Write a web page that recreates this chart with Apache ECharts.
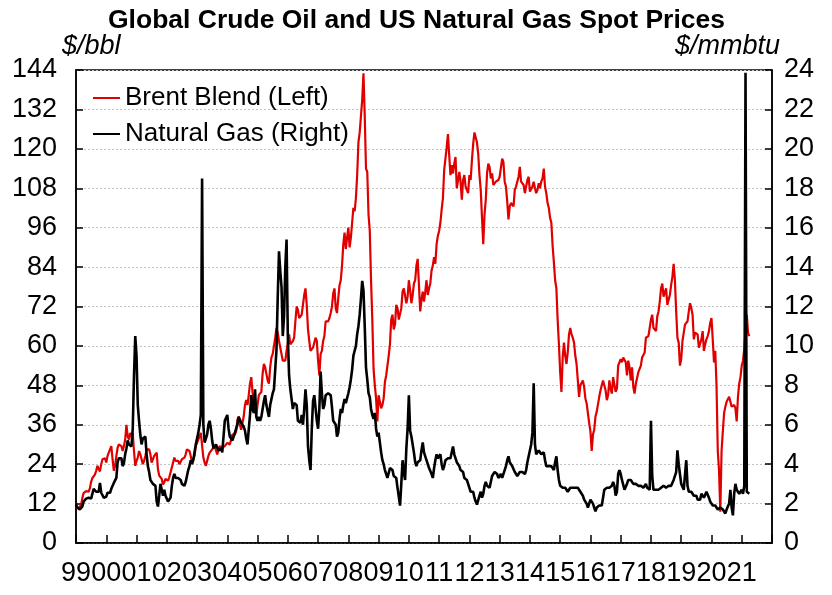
<!DOCTYPE html>
<html><head><meta charset="utf-8">
<script src="https://cdn.jsdelivr.net/npm/echarts@6/dist/echarts.min.js"></script>
<style>html,body{margin:0;padding:0;background:#fff}#c{width:832px;height:595px}</style>
</head><body><div id="c"></div>
<script>
// Semi-monthly readings (1st and 16th of each month), Jan 1999 - Apr 2021
const brent = [
/*1999*/ 10.8,11.2,10.6,10.2,11.5,13.6,15.2,15.6,15.8,15.2,15.6,16.6,18.6,19.8,20.0,20.8,22.0,23.5,22.5,21.8,24.0,25.5,25.2,25.8,
/*2000*/ 24.5,26.5,27.5,28.5,29.5,25.5,22.0,23.5,26.5,29.0,30.0,30.5,29.5,28.0,29.5,31.5,36.0,32.5,31.5,33.5,32.5,33.5,28.0,23.5,
/*2001*/ 25.0,26.0,28.0,27.0,25.5,24.0,25.0,26.5,28.5,28.0,28.5,27.0,24.5,25.0,26.5,26.0,27.5,22.5,20.5,20.0,19.5,17.8,18.5,19.5,
/*2002*/ 19.5,19.0,20.0,20.5,23.0,24.5,26.0,25.0,25.5,25.0,24.0,24.5,25.5,26.0,26.0,27.0,28.5,28.0,28.0,26.5,24.5,24.0,26.5,29.5,
/*2003*/ 30.0,31.5,32.5,33.5,34.0,26.0,24.5,23.5,25.0,26.5,27.5,27.5,28.5,28.0,29.5,30.0,27.0,27.5,29.5,30.0,29.0,28.5,29.5,30.0,
/*2004*/ 30.5,31.0,30.0,30.5,33.0,33.5,33.0,34.0,37.5,38.5,36.0,34.5,36.5,38.5,42.0,43.5,42.0,45.0,48.5,50.5,46.0,43.0,40.0,39.0,
/*2005*/ 42.0,45.0,44.5,46.0,51.5,54.5,53.5,51.5,49.5,48.5,53.5,56.5,57.5,58.0,62.5,65.5,64.0,61.5,59.5,57.5,55.5,55.0,55.5,58.5,
/*2006*/ 61.0,63.5,60.5,60.0,61.5,62.5,67.5,72.0,71.0,68.5,69.0,69.5,72.5,75.5,77.5,72.5,65.0,61.5,58.5,58.0,59.5,59.0,62.5,61.5,
/*2007*/ 55.5,51.0,57.5,58.5,61.5,63.0,67.5,67.0,67.5,68.5,70.0,72.0,76.0,77.5,71.5,70.0,74.5,78.5,80.0,84.5,91.0,94.5,89.5,93.0,
/*2008*/ 96.0,90.0,93.0,97.5,102.0,101.0,105.0,112.0,122.0,125.0,130.0,135.0,143.0,130.0,114.0,113.0,100.0,95.0,80.0,68.0,53.0,48.0,44.0,37.0,
/*2009*/ 45.0,43.0,41.0,42.0,44.0,49.0,51.0,50.5,57.0,60.5,68.0,69.5,65.0,66.5,72.5,71.5,68.0,68.5,71.5,76.5,77.5,77.0,73.0,75.0,
/*2010*/ 80.0,77.0,73.0,75.5,79.0,80.0,84.5,86.5,78.5,70.5,74.0,76.5,73.5,76.5,80.0,75.5,77.5,79.0,83.0,84.5,87.0,85.0,91.0,93.5,
/*2011*/ 95.0,97.5,101.5,105.0,113.5,114.0,120.5,124.5,118.0,112.0,115.0,112.5,115.5,117.5,108.0,108.5,113.0,110.0,104.5,110.5,112.0,108.5,109.0,106.5,
/*2012*/ 112.0,110.5,116.5,121.5,125.0,124.5,122.0,118.5,112.0,107.5,99.0,91.0,100.0,104.5,112.5,115.5,114.5,111.0,112.5,109.0,108.5,110.0,109.5,110.5,
/*2013*/ 111.5,112.0,117.0,116.0,110.0,108.5,104.0,98.5,102.5,103.5,103.5,102.5,107.5,108.5,108.5,111.5,114.5,110.0,109.5,109.0,106.5,108.5,110.5,111.5,
/*2014*/ 107.0,107.5,108.5,110.0,108.0,106.5,107.5,109.5,108.0,110.0,111.0,114.0,108.5,106.5,103.5,102.0,99.0,97.5,90.5,85.5,80.0,77.5,68.0,60.5,
/*2015*/ 52.0,46.0,56.5,61.0,57.0,54.5,58.0,63.5,65.5,63.5,62.5,61.0,57.0,54.5,49.5,44.5,48.0,47.5,49.5,47.5,44.0,42.5,39.5,36.5,
/*2016*/ 34.0,28.0,33.0,34.5,38.5,40.0,40.5,44.5,46.5,48.0,49.5,49.0,46.5,43.5,45.0,49.5,47.0,45.5,50.5,51.0,46.0,47.0,54.0,55.0,
/*2017*/ 56.0,55.0,56.5,56.0,55.0,51.0,55.5,53.5,49.5,53.5,47.5,45.5,48.5,49.0,52.0,51.5,54.0,56.5,56.5,58.0,62.5,63.0,63.0,65.5,
/*2018*/ 68.0,69.5,65.5,65.0,64.5,69.0,70.5,73.5,77.5,79.0,75.0,74.5,77.5,72.5,72.5,75.5,78.5,81.0,85.0,80.0,70.5,62.5,61.0,54.0,
/*2019*/ 56.0,61.5,62.0,66.5,66.0,67.5,70.5,73.0,71.5,69.5,62.0,64.0,64.0,63.5,59.5,59.5,62.0,64.5,58.5,60.5,62.0,63.0,64.5,67.0,
/*2020*/ 68.5,62.0,55.0,58.5,48.0,28.0,22.0,9.5,28.0,34.0,39.5,41.5,43.0,43.5,44.5,45.0,41.5,41.5,42.0,41.0,37.0,44.5,48.5,50.5,
/*2021*/ 54.0,55.5,59.0,64.5,69.5,64.0,63.0
];
const gas = [
/*1999*/ 1.95,1.80,1.75,1.70,1.75,1.85,2.10,2.20,2.25,2.35,2.30,2.35,2.25,2.35,2.75,2.85,2.60,2.65,2.60,3.05,2.55,2.45,2.30,2.25,
/*2000*/ 2.35,2.55,2.65,2.55,2.75,2.85,3.05,3.15,3.30,4.10,4.30,4.40,4.30,3.90,4.05,4.50,4.80,5.20,5.00,5.10,4.90,5.80,8.50,10.50,
/*2001*/ 9.50,7.00,6.20,5.50,5.00,5.30,5.20,5.40,4.50,3.90,3.60,3.20,3.10,3.00,3.10,2.90,2.10,1.85,2.40,3.00,2.90,2.40,2.70,2.40,
/*2002*/ 2.45,2.10,2.10,2.30,2.90,3.30,3.50,3.30,3.40,3.30,3.20,3.20,3.00,3.00,2.90,3.10,3.40,3.70,3.90,4.20,4.00,4.20,4.60,5.00,
/*2003*/ 5.00,5.60,6.00,6.50,18.50,6.00,5.10,5.30,5.50,6.00,6.20,5.80,5.20,4.80,4.90,5.00,4.90,4.70,4.60,4.80,4.60,4.70,6.20,6.30,
/*2004*/ 6.50,5.80,5.40,5.30,5.20,5.40,5.60,5.70,6.00,6.40,6.50,6.10,6.00,5.90,5.70,5.30,5.00,4.90,6.50,7.50,6.80,6.60,7.80,6.40,
/*2005*/ 6.20,6.40,6.20,6.40,6.80,7.20,7.50,7.00,6.70,6.40,7.00,7.30,7.60,7.80,8.80,9.80,12.50,14.80,13.80,13.00,10.50,11.50,14.00,15.40,
/*2006*/ 10.50,8.50,7.80,7.30,6.80,7.10,7.20,7.00,6.20,6.30,6.10,6.50,6.00,6.80,7.80,7.00,4.90,4.20,3.70,5.80,7.20,7.50,7.40,6.20,
/*2007*/ 5.80,6.80,8.70,7.60,6.80,7.00,7.50,7.60,7.60,7.60,7.50,6.90,6.20,6.20,6.00,5.40,5.60,6.30,6.80,6.60,7.00,7.30,7.10,7.00,
/*2008*/ 7.60,7.90,8.30,8.80,9.50,9.60,10.00,10.60,11.00,11.60,12.40,13.30,12.80,11.00,8.90,8.30,7.60,7.40,6.80,6.50,6.30,6.60,5.80,5.40,
/*2009*/ 5.60,5.10,4.60,4.20,4.00,3.70,3.50,3.30,3.40,3.80,3.90,3.70,3.40,3.30,3.30,2.80,2.70,1.90,3.00,4.20,3.60,3.20,4.80,5.80,
/*2010*/ 7.50,5.70,5.40,5.30,4.60,4.10,3.90,4.10,4.00,4.20,4.70,5.10,4.60,4.40,4.40,4.00,3.80,3.90,3.50,3.30,3.80,4.20,4.50,4.30,
/*2011*/ 4.30,4.50,4.00,3.70,3.90,4.20,4.10,4.30,4.20,4.30,4.60,4.90,4.50,4.40,4.10,4.00,3.90,3.70,3.60,3.60,3.30,3.20,3.20,3.00,
/*2012*/ 2.90,2.60,2.50,2.60,2.30,2.10,1.95,1.85,2.40,2.60,2.30,2.50,2.90,3.10,2.90,2.80,2.80,2.90,3.40,3.40,3.60,3.60,3.50,3.30,
/*2013*/ 3.20,3.50,3.30,3.30,3.70,3.90,4.20,4.40,4.10,4.00,3.90,3.80,3.60,3.70,3.40,3.50,3.60,3.70,3.60,3.70,3.50,3.70,4.10,4.40,
/*2014*/ 4.30,5.00,5.60,8.10,5.00,4.50,4.60,4.70,4.60,4.50,4.60,4.60,4.20,3.90,3.90,3.90,3.90,3.90,3.80,3.70,4.10,4.40,3.70,3.20,
/*2015*/ 2.90,3.00,2.80,2.90,2.80,2.70,2.60,2.50,2.80,2.90,2.80,2.80,2.80,2.90,2.80,2.70,2.60,2.60,2.40,2.20,2.10,2.00,1.80,1.90,
/*2016*/ 2.20,2.10,2.00,1.80,1.60,1.80,1.90,1.90,1.90,1.90,2.30,2.70,2.80,2.80,2.70,2.80,2.80,2.90,3.10,2.90,2.40,2.60,3.50,3.70,
/*2017*/ 3.50,3.20,3.10,2.70,2.80,3.00,3.20,3.10,3.20,3.20,3.00,2.90,3.00,2.90,2.90,2.90,2.90,2.90,2.80,2.80,3.00,2.80,2.80,2.70,
/*2018*/ 6.20,3.40,2.70,2.60,2.70,2.70,2.70,2.80,2.80,2.90,2.90,2.90,2.80,2.80,2.90,2.90,2.90,3.00,3.20,3.30,3.60,4.70,4.00,3.50,
/*2019*/ 3.00,3.10,2.70,2.80,4.20,2.90,2.60,2.60,2.60,2.60,2.40,2.30,2.40,2.20,2.10,2.20,2.50,2.60,2.30,2.40,2.60,2.70,2.30,2.10,
/*2020*/ 2.00,1.90,1.85,1.90,1.80,1.70,1.60,1.80,1.70,1.70,1.60,1.50,1.70,1.80,2.00,2.70,1.80,1.40,2.50,3.00,2.70,2.60,2.50,2.60,
/*2021*/ 2.70,2.50,2.90,23.86,2.60,2.50,2.50
];
const leftTicks = {min: 0, max: 144, interval: 12};
const rightTicks = {min: 0, max: 24, interval: 2};
const firstYear = 1999, lastYear = 2021;

// Category axis: 1st and 16th of each month, plus 2022-01-01 as the right edge
const dates = [];
for (let y = firstYear; y <= lastYear; y++) {
  for (let m = 1; m <= 12; m++) {
    const mm = String(m).padStart(2, '0');
    dates.push(y + '-' + mm + '-01');
    dates.push(y + '-' + mm + '-16');
  }
}
dates.push((lastYear + 1) + '-01-01');

const FONT = '"Liberation Sans", Arial, sans-serif';
const chart = echarts.init(document.getElementById('c'), null, {renderer: 'canvas'});
const yearStart = (idx) => idx % 24 === 0;
chart.setOption({
  animation: false,
  backgroundColor: '#fff',
  title: {
    text: 'Global Crude Oil and US Natural Gas Spot Prices',
    left: 103, top: 2,
    textStyle: {fontFamily: FONT, fontSize: 26.5, fontWeight: 'bold', color: '#000'}
  },
  graphic: [
    {type: 'text', left: 62, top: 33, style: {text: '$/bbl', font: 'italic 27px ' + FONT, fill: '#000'}},
    {type: 'text', right: 52, top: 33, style: {text: '$/mmbtu', font: 'italic 27px ' + FONT, fill: '#000'}}
  ],
  legend: {
    orient: 'vertical', left: 88, top: 80, itemGap: 10,
    itemWidth: 27, itemHeight: 2, icon: 'rect',
    textStyle: {fontFamily: FONT, fontSize: 26, color: '#000'},
    data: ['Brent Blend (Left)', 'Natural Gas (Right)']
  },
  grid: {left: 76, right: 60, top: 70, bottom: 52, show: true, borderColor: '#000', borderWidth: 1.5},
  xAxis: {
    type: 'category', data: dates, boundaryGap: false,
    axisLine: {lineStyle: {color: '#000', width: 1.5}},
    axisTick: {inside: true, length: 8, interval: (i) => yearStart(i), lineStyle: {color: '#000', width: 1.5}},
    axisLabel: {
      interval: (i) => yearStart(i) && i < dates.length - 1,
      formatter: (v) => v.slice(2, 4),
      fontFamily: FONT, fontSize: 27, color: '#000', margin: 17
    },
    splitLine: {show: false}
  },
  yAxis: [
    {
      type: 'value', position: 'left', min: leftTicks.min, max: leftTicks.max, interval: leftTicks.interval,
      axisLine: {show: true, lineStyle: {color: '#000', width: 1.5}},
      axisTick: {show: true, inside: true, length: 7, lineStyle: {color: '#000', width: 1.5}},
      axisLabel: {fontFamily: FONT, fontSize: 27, color: '#000', margin: 19},
      splitLine: {show: true, lineStyle: {color: '#c4c4c4', width: 1, type: [2, 2]}}
    },
    {
      type: 'value', position: 'right', min: rightTicks.min, max: rightTicks.max, interval: rightTicks.interval,
      axisLine: {show: true, lineStyle: {color: '#000', width: 1.5}},
      axisTick: {show: true, inside: true, length: 7, lineStyle: {color: '#000', width: 1.5}},
      axisLabel: {fontFamily: FONT, fontSize: 27, color: '#000', margin: 12},
      splitLine: {show: false}
    }
  ],
  series: [
    {
      name: 'Brent Blend (Left)', type: 'line', yAxisIndex: 0, data: brent,
      showSymbol: false, symbol: 'none', color: '#e00000',
      lineStyle: {color: '#e00000', width: 2.2}, z: 2
    },
    {
      name: 'Natural Gas (Right)', type: 'line', yAxisIndex: 1, data: gas,
      showSymbol: false, symbol: 'none', color: '#000',
      lineStyle: {color: '#000', width: 2.6}, z: 3
    }
  ]
});
</script>
</body></html>
